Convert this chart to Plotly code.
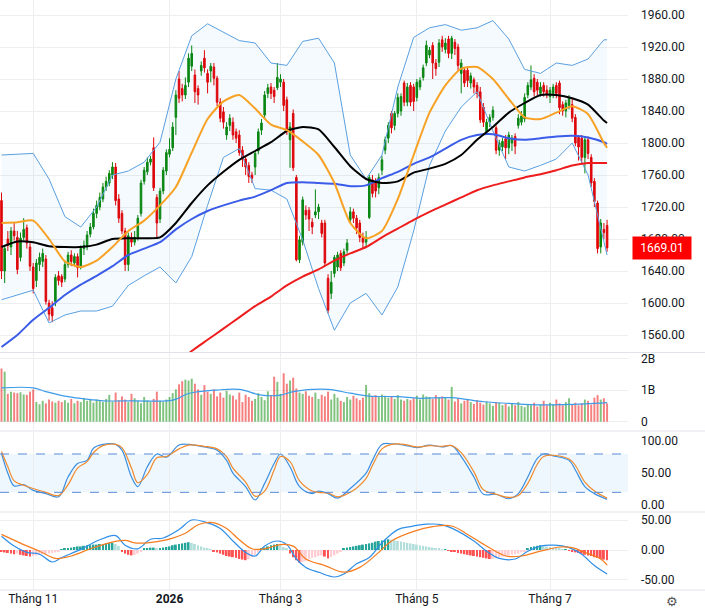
import plotly.graph_objects as go

# ---------------- data ----------------
opens = [1728,1640,1680,1670,1690,1682,1657,1682,1694,1670,1645,1628,1648,1652,1655,1600,1594,1602,1634,1633,
         1630,1648,1660,1650,1658,1645,1668,1670,1686,1695,1712,1720,1730,1745,1750,1760,1770,1730,1712,1690,
         1648,1682,1676,1682,1712,1752,1764,1776,1794,1732,1705,1740,1765,1786,1794,1832,1880,1868,1860,1876,
         1896,1885,1868,1890,1906,1887,1890,1895,1881,1851,1839,1810,1822,1826,1814,1810,1791,1780,1772,1760,
         1770,1790,1816,1835,1862,1870,1866,1869,1876,1876,1854,1804,1837,1757,1654,1676,1716,1716,1701,1710,
         1714,1700,1700,1631,1612,1637,1645,1662,1650,1666,1704,1714,1706,1700,1682,1676,1707,1754,1752,1744,
         1766,1791,1806,1837,1822,1837,1840,1875,1851,1872,1870,1857,1870,1882,1900,1910,1922,1900,1901,1929,
         1917,1930,1912,1926,1920,1887,1891,1891,1875,1879,1872,1864,1845,1814,1826,1832,1819,1791,1795,1805,
         1794,1800,1808,1822,1826,1830,1860,1870,1881,1876,1862,1872,1866,1858,1862,1872,1875,1848,1840,1847,
         1848,1832,1807,1806,1782,1804,1782,1752,1725,1670,1692,1697]
highs = [1738,1672,1690,1695,1700,1690,1688,1706,1698,1675,1650,1655,1663,1668,1660,1604,1602,1636,1640,1636,
         1652,1664,1666,1662,1662,1672,1678,1690,1700,1718,1728,1738,1750,1758,1766,1776,1775,1736,1716,1694,
         1688,1688,1690,1710,1754,1770,1782,1784,1807,1736,1744,1770,1792,1806,1826,1866,1890,1874,1882,1912,
         1922,1892,1872,1902,1916,1892,1900,1900,1884,1856,1845,1826,1836,1832,1818,1816,1796,1784,1776,1764,
         1790,1818,1830,1865,1874,1875,1870,1900,1886,1880,1858,1826,1842,1760,1684,1733,1722,1720,1706,1742,
         1724,1704,1704,1636,1640,1660,1664,1666,1668,1680,1720,1718,1710,1704,1688,1690,1760,1760,1756,1762,
         1784,1808,1826,1840,1840,1862,1862,1878,1875,1876,1874,1880,1882,1898,1928,1920,1926,1905,1930,1934,
         1931,1934,1934,1930,1924,1905,1895,1895,1888,1882,1876,1870,1850,1830,1836,1846,1822,1804,1806,1810,
         1814,1810,1812,1836,1840,1862,1876,1897,1886,1880,1876,1876,1872,1870,1874,1876,1878,1852,1854,1860,
         1856,1836,1810,1810,1808,1808,1786,1756,1728,1705,1700,1704]
lows = [1630,1625,1665,1660,1678,1636,1652,1678,1668,1640,1612,1620,1640,1645,1598,1578,1576,1596,1622,1620,
        1626,1644,1646,1646,1632,1642,1660,1666,1682,1692,1706,1716,1726,1740,1746,1755,1722,1700,1686,1640,
        1640,1670,1672,1678,1708,1748,1760,1772,1740,1682,1700,1736,1760,1782,1790,1810,1850,1852,1855,1870,
        1890,1850,1848,1884,1888,1862,1876,1872,1846,1826,1818,1804,1815,1804,1800,1784,1770,1760,1750,1750,
        1760,1786,1810,1830,1856,1855,1850,1866,1870,1840,1810,1769,1765,1652,1650,1672,1704,1690,1686,1706,
        1705,1682,1646,1587,1605,1632,1640,1640,1646,1662,1700,1700,1686,1676,1668,1670,1705,1732,1732,1736,
        1760,1786,1800,1812,1816,1832,1834,1846,1846,1846,1840,1852,1866,1878,1896,1906,1880,1884,1895,1914,
        1912,1906,1905,1910,1890,1862,1870,1870,1868,1862,1856,1825,1820,1810,1820,1828,1786,1784,1790,1780,
        1786,1790,1786,1818,1822,1826,1856,1866,1858,1860,1858,1858,1856,1850,1856,1856,1836,1834,1832,1842,
        1826,1796,1778,1775,1762,1780,1745,1720,1662,1662,1680,1664]
closes = [1640,1668,1672,1690,1684,1642,1681,1692,1675,1646,1618,1650,1657,1662,1602,1586,1584,1632,1628,1626,
          1648,1660,1652,1658,1644,1668,1672,1685,1695,1712,1722,1732,1745,1752,1762,1770,1728,1706,1690,1648,
          1684,1676,1682,1706,1750,1766,1776,1780,1744,1700,1740,1766,1788,1792,1820,1860,1856,1860,1872,1906,
          1912,1864,1860,1897,1894,1876,1896,1881,1851,1831,1826,1820,1831,1810,1806,1788,1780,1770,1758,1756,
          1787,1814,1825,1860,1869,1862,1858,1882,1880,1847,1814,1820,1769,1654,1679,1729,1710,1705,1695,1714,
          1720,1687,1650,1591,1626,1657,1660,1644,1664,1675,1714,1706,1694,1682,1676,1682,1757,1737,1740,1757,
          1779,1804,1822,1819,1837,1857,1858,1851,1870,1851,1852,1876,1878,1894,1922,1916,1900,1893,1925,1920,
          1925,1912,1931,1918,1897,1900,1875,1878,1884,1870,1862,1829,1826,1826,1832,1841,1791,1800,1802,1794,
          1810,1806,1796,1831,1834,1857,1872,1879,1864,1866,1870,1864,1860,1866,1870,1862,1844,1840,1850,1856,
          1831,1800,1795,1782,1804,1787,1750,1727,1668,1700,1688,1669.01]
volume_b = [1.68,1.58,0.88,0.95,0.92,0.90,0.93,0.86,0.85,0.95,1.02,
            0.62,0.55,0.66,0.58,0.70,0.64,0.60,0.66,0.62,0.68,
            0.60,0.72,0.58,0.66,0.62,0.75,0.66,0.72,0.60,0.70,0.65,0.62,
            0.72,0.85,0.64,0.92,0.68,0.80,0.70,0.62,0.88,0.74,
            0.66,0.58,0.78,0.68,0.62,0.72,0.95,0.66,0.62,0.70,0.78,
            0.90,1.02,1.18,1.28,1.33,1.30,1.36,1.20,1.02,
            0.85,1.16,0.95,0.88,1.02,0.80,0.92,0.76,0.98,0.86,0.82,
            0.70,0.92,0.62,0.85,0.78,0.66,0.72,0.90,0.78,0.68,0.96,0.84,
            1.42,1.26,0.88,1.53,1.20,1.30,1.39,1.05,0.92,0.88,
            0.96,0.82,0.78,0.92,0.72,0.85,0.80,0.95,0.70,0.88,0.76,0.66,
            0.62,0.78,0.70,0.82,0.74,0.68,0.76,1.16,0.90,
            0.80,0.84,0.78,0.86,0.82,0.76,0.80,0.72,0.84,0.70,0.66,
            0.72,0.68,0.74,0.82,0.70,0.86,0.80,0.78,0.72,0.84,0.76,0.80,0.78,0.70,
            1.10,0.64,0.72,0.58,0.66,0.70,0.62,0.56,0.68,0.60,0.54,0.64,0.58,0.50,0.62,
            0.60,0.52,0.56,0.48,0.58,0.52,0.62,0.50,0.46,0.56,0.52,0.60,0.48,0.54,
            0.66,0.52,0.60,0.56,0.70,0.58,0.52,0.62,0.74,0.56,0.60,0.52,0.58,0.70,0.66,0.54,0.76,0.84,0.70,0.74,0.58]

# indicator lines, sampled at these candle indices
line_idx = [0,5,10,15,20,25,30,35,40,45,50,55,60,65,70,75,80,85,90,95,
            100,105,110,115,120,125,130,135,140,145,150,155,160,165,170,175,180,185,190,191]
bb_upper = [1785,1786,1787,1755,1708,1695,1720,1760,1765,1776,1801,1880,1934,1949,1939,1928,1925,1900,1897,1927,
            1931,1900,1785,1755,1785,1870,1932,1944,1948,1941,1944,1953,1930,1892,1887,1900,1897,1905,1929,1929]
bb_lower = [1604,1610,1616,1575,1585,1590,1590,1596,1622,1634,1645,1625,1658,1722,1782,1793,1743,1741,1730,1679,
            1618,1566,1600,1612,1585,1620,1690,1772,1815,1845,1864,1815,1770,1765,1772,1780,1800,1760,1675,1660]
ma20 = [1700,1701,1703,1680,1652,1645,1653,1670,1690,1703,1722,1745,1788,1830,1852,1860,1843,1823,1816,1802,
        1785,1750,1700,1681,1690,1730,1785,1838,1872,1893,1895,1880,1855,1832,1830,1838,1846,1836,1800,1794]
ma50 = [1670,1677,1676,1671,1670,1670,1673,1680,1681,1681,1682,1700,1725,1747,1764,1779,1790,1801,1815,1820,
        1817,1795,1771,1755,1750,1752,1763,1768,1774,1785,1804,1820,1838,1850,1860,1860,1856,1848,1828,1825]
ma100 = [1545,1560,1579,1594,1610,1623,1634,1646,1660,1668,1676,1692,1705,1715,1722,1728,1733,1741,1750,1751,
         1750,1749,1746,1747,1756,1764,1774,1782,1793,1804,1810,1811,1806,1804,1806,1808,1809,1807,1801,1799]
ma200_idx = [58,60,65,70,75,80,85,90,95,100,105,110,115,120,125,130,135,140,145,150,155,160,165,170,175,180,185,190,191]
ma200 = [1533,1540,1554,1568,1582,1596,1608,1622,1633,1642,1653,1662,1670,1682,1693,1704,1714,1723,1732,1741,
         1747,1752,1757,1761,1766,1772,1775,1775,1775]

vol_ma_idx = [0,10,14,21,28,32,42,54,59,68,75,82,88,92,103,110,116,125,132,142,152,160,170,184,191]
vol_ma_b = [1.07,1.07,0.95,0.79,0.70,0.66,0.66,0.68,0.89,1.00,1.02,0.84,0.84,0.95,1.02,0.90,0.81,0.79,0.74,0.76,
            0.63,0.58,0.53,0.56,0.60]

stoch_idx = [0,2,4,7,10,14,18,21,24,27,29,32,36,38,41,43,46,49,52,56,59,64,68,71,73,77,80,83,86,88,
             91,94,98,100,103,106,110,115,117,120,123,127,131,135,139,142,145,149,152,156,160,163,166,169,171,174,
             179,181,184,187,191]
stoch_k = [81,50,30,32,23,18,13,44,65,70,89,95,95,86,44,29,60,80,75,94,95,91,86,70,50,29,8,34,65,80,
           60,29,18,22,18,11,26,50,70,95,96,94,90,94,91,93,76,44,17,17,10,18,44,73,80,77,70,55,29,18,9]
stoch_d = [84,60,38,31,26,20,15,32,58,68,82,93,95,90,58,35,48,74,76,88,94,92,88,76,58,36,14,22,55,76,
           68,38,22,20,19,13,20,42,62,88,95,95,91,93,92,93,82,52,24,17,12,15,34,64,76,78,72,62,36,22,11]

macd_idx = [0,4,8,12,16,19,25,31,36,39,43,47,51,56,60,64,69,73,77,80,83,87,90,93,96,100,105,108,112,116,
            120,125,129,134,139,143,149,153,157,162,166,170,174,179,183,187,191]
macd_line = [23,6.5,-4,-7,-20,-12.5,1,17,24,8,2,18,20,34,50,47,36,15,-4,-10,6.5,15,9,-15,-29,-37,-45,-40,-23,-12.5,
             12,34,39,43,42,34,15,-2,-14,-15,-2,6.5,8,4,-7,-26,-40]
signal_idx = [0,7,12,17,22,28,34,39,42,46,52,58,62,66,71,75,79,83,88,92,96,102,108,113,119,123,130,136,142,147,
              153,159,164,170,176,180,184,189,191]
signal_line = [26,9,-2,-14,-10,2,12,16,12,12,17,28,42,46,36,17,2,2,9,6.5,-15,-26,-37,-29,-4,15,31,39,40,26,
               6.5,-10,-10,-2,5,4,-4,-15,-25]
macd_hist = [-3,-4,-5,-6,-7,-6,-8,-9,-10,-11,-10,-9,-8,-7,-6,-6,-5,-4,-2,
             1,2,3,4,5,6,6,7,8,8,9,9,10,10,11,12,12,10,7,
             -3,-6,-8,-9,-8,-6,-3,
             2,3,4,4,3,3,
             4,5,6,8,9,10,11,12,13,
             12,10,8,6,4,2,1,
             -2,-4,-6,-8,-10,-11,-12,-13,-15,-16,-17,-15,-12,-8,-4,
             2,4,6,8,9,10,8,5,2,
             -6,-12,-17,-21,-20,-18,-15,-13,-12,-10,-9,-11,-14,-12,-9,-6,-3,
             2,4,5,6,7,8,9,10,11,12,14,15,16,17,18,
             17,16,15,14,13,12,11,10,9,8,7,6,5,4,3,2,1,1,
             -1,-2,-3,-5,-6,-7,-8,-9,-10,-11,-12,-13,-14,-15,-15,-14,
             -12,-11,-10,-9,-8,-7,-6,-4,-2,
             3,5,6,7,8,
             7,6,5,4,3,2,1,1,
             -1,-2,-4,-5,-6,-8,-9,-10,-12,-13,-15,-16,-17]

tick_idx = [10, 53, 88, 131, 173]
tick_text = ["Tháng 11", "<b>2026</b>", "Tháng 3", "Tháng 5", "Tháng 7"]
last_price = 1669.01

# ---------------- styling ----------------
GREEN = "#0a870a"
RED = "#e60000"
FONT = "Roboto"
GRID = "#eeeeee"
TXT = "#131722"

x = list(range(len(closes)))
vol = [v * 1e9 for v in volume_b]
vol_ma = [v * 1e9 for v in vol_ma_b]
vol_colors = ["rgba(0,135,0,0.5)" if c >= o else "rgba(235,0,0,0.5)" for o, c in zip(opens, closes)]

hist_colors = []
prev = 0
for h in macd_hist:
    if h >= 0:
        hist_colors.append("#26a69a" if h >= prev else "#b2dfdb")
    else:
        hist_colors.append("#ff5252" if h < prev else "#ffcdd2")
    prev = h

fig = go.Figure()

# Bollinger band
fig.add_trace(go.Scatter(x=line_idx, y=bb_upper, mode="lines", line=dict(color="#5aa0e0", width=1),
                         hoverinfo="skip", showlegend=False, xaxis="x", yaxis="y"))
fig.add_trace(go.Scatter(x=line_idx, y=bb_lower, mode="lines", line=dict(color="#5aa0e0", width=1),
                         fill="tonexty", fillcolor="rgba(33,150,243,0.045)",
                         hoverinfo="skip", showlegend=False, xaxis="x", yaxis="y"))
# moving averages
for xs, ys, col in [(ma200_idx, ma200, "#ee1c1c"), (line_idx, ma100, "#3b5ce8"),
                    (line_idx, ma50, "#000000"), (line_idx, ma20, "#f7a125")]:
    fig.add_trace(go.Scatter(x=xs, y=ys, mode="lines", line=dict(color=col, width=2, shape="spline", smoothing=0.6),
                             hoverinfo="skip", showlegend=False, xaxis="x", yaxis="y"))
# candles
fig.add_trace(go.Candlestick(x=x, open=opens, high=highs, low=lows, close=closes,
                             increasing=dict(line=dict(color=GREEN, width=1), fillcolor=GREEN),
                             decreasing=dict(line=dict(color=RED, width=1), fillcolor=RED),
                             whiskerwidth=0, showlegend=False, xaxis="x", yaxis="y"))

# volume
fig.add_trace(go.Bar(x=x, y=vol, marker=dict(color=vol_colors, line=dict(width=0)), width=0.62,
                     showlegend=False, xaxis="x2", yaxis="y2"))
fig.add_trace(go.Scatter(x=vol_ma_idx, y=vol_ma, mode="lines", line=dict(color="#3d9be9", width=1.2, shape="spline"),
                         showlegend=False, xaxis="x2", yaxis="y2"))

# stochastic
fig.add_trace(go.Scatter(x=stoch_idx, y=stoch_k, mode="lines", line=dict(color="#3b8fe0", width=1.2, shape="spline"),
                         showlegend=False, xaxis="x3", yaxis="y3"))
fig.add_trace(go.Scatter(x=stoch_idx, y=stoch_d, mode="lines", line=dict(color="#f08a2c", width=1.2, shape="spline"),
                         showlegend=False, xaxis="x3", yaxis="y3"))

# MACD
fig.add_trace(go.Bar(x=x, y=macd_hist, marker=dict(color=hist_colors, line=dict(width=0)), width=0.6,
                     showlegend=False, xaxis="x4", yaxis="y4"))
fig.add_trace(go.Scatter(x=macd_idx, y=macd_line, mode="lines", line=dict(color="#2f8fe8", width=1.2, shape="spline"),
                         showlegend=False, xaxis="x4", yaxis="y4"))
fig.add_trace(go.Scatter(x=signal_idx, y=signal_line, mode="lines", line=dict(color="#f57c1f", width=1.2, shape="spline"),
                         showlegend=False, xaxis="x4", yaxis="y4"))

H = 590.0
def py(p):
    return (H - p) / H

xr = [-0.47, 197.6]
xcommon = dict(range=xr, tickvals=tick_idx, ticktext=tick_text, showgrid=True, gridcolor=GRID,
               zeroline=False, showline=False, ticks="", fixedrange=True)
yfont = dict(family=FONT, size=12, color=TXT)

fig.update_layout(
    width=705, height=614,
    margin=dict(l=0, r=77, t=0, b=24),
    paper_bgcolor="white", plot_bgcolor="white",
    font=dict(family=FONT, size=12, color=TXT),
    bargap=0.3,
    xaxis=dict(**xcommon, anchor="y", showticklabels=False, rangeslider=dict(visible=False)),
    xaxis2=dict(**xcommon, anchor="y2", matches="x", showticklabels=False),
    xaxis3=dict(**xcommon, anchor="y3", matches="x", showticklabels=False),
    xaxis4=dict(**xcommon, anchor="y4", matches="x", showticklabels=True,
                tickfont=dict(family=FONT, size=12, color=TXT)),
    yaxis=dict(domain=[py(352), 1], side="right", range=[1538.75, 1978.75],
               tickvals=[1560, 1600, 1640, 1680, 1720, 1760, 1800, 1840, 1880, 1920, 1960],
               tickformat=".2f", showgrid=True, gridcolor=GRID, zeroline=False, ticks="",
               ticklabelstandoff=12, tickfont=yfont),
    yaxis2=dict(domain=[py(430), py(353)], side="right", range=[-0.262e9, 2.17e9],
                tickvals=[0, 1e9, 2e9], ticktext=["0", "1B", "2B"], showgrid=True, gridcolor=GRID,
                zeroline=False, ticks="", ticklabelstandoff=12, tickfont=yfont),
    yaxis3=dict(domain=[py(511), py(432)], side="right", range=[-9.2, 114.4],
                tickvals=[0, 50, 100], ticktext=["0.00", "50.00", "100.00"], showgrid=False,
                zeroline=False, ticks="", ticklabelstandoff=12, tickfont=yfont),
    yaxis4=dict(domain=[0, py(513)], side="right", range=[-66.7, 61.7],
                tickvals=[-50, 0, 50], ticktext=["-50.00", "0.00", "50.00"], showgrid=True, gridcolor=GRID,
                zeroline=False, ticks="", ticklabelstandoff=12, tickfont=yfont),
)

shapes = [
    dict(type="rect", xref="x3 domain", yref="y3", x0=0, x1=1, y0=20, y1=80,
         fillcolor="rgba(33,150,243,0.08)", line=dict(width=0), layer="below"),
    dict(type="line", xref="x3 domain", yref="y3", x0=0, x1=1, y0=80, y1=80,
         line=dict(color="#5a8ad6", width=1, dash="dash")),
    dict(type="line", xref="x3 domain", yref="y3", x0=0, x1=1, y0=20, y1=20,
         line=dict(color="#5a8ad6", width=1, dash="dash")),
]
for ysep in [352.5, 431, 512, 590]:
    shapes.append(dict(type="line", xref="paper", yref="paper", x0=0, x1=705 / 628.0,
                       y0=py(ysep), y1=py(ysep), line=dict(color="#e0e3eb", width=1)))
fig.update_layout(shapes=shapes)

fig.add_annotation(x=1, xref="paper", y=last_price, yref="y", xanchor="left", xshift=4,
                   text="%.2f" % last_price, showarrow=False, bgcolor="#ff0000",
                   font=dict(family=FONT, size=12, color="white"), width=54, height=18, borderpad=2)
fig.add_annotation(x=672 / 628.0, xref="paper", y=py(601), yref="paper", yanchor="middle", xanchor="center",
                   text="⚙", showarrow=False, font=dict(family="DejaVu Sans", size=13, color="#555555"))

fig.write_html("out.html")
